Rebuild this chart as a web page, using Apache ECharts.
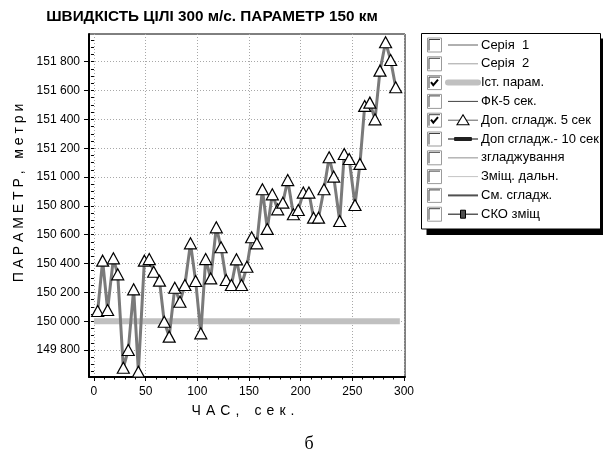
<!DOCTYPE html>
<html><head><meta charset="utf-8">
<script src="https://cdn.jsdelivr.net/npm/echarts@6/dist/echarts.min.js"></script>
<style>html,body{margin:0;padding:0;background:#fff}#c{width:603px;height:454px}</style>
</head><body><div id="c"></div>
<script>
// ---- data ----
const timeSec = [3.6, 8.4, 13.2, 18.8, 23, 28.4, 33.2, 38.4, 43, 48.8,
  53.5, 57.8, 63.4, 68, 72.8, 78.2, 83.2, 88, 93.4, 98.4,
  103.4, 108.1, 113, 118.4, 123, 128, 133, 137.9, 142.8, 148,
  152.6, 157.6, 163, 167.7, 172.6, 177.8, 182.8, 187.5, 193, 197.7,
  202.6, 208, 212.5, 217.3, 222.6, 227.6, 232, 237.8, 242.2, 247,
  252.6, 257.4, 262, 267, 272, 276.8, 282.2, 287.1, 292];
const dopSmooth5 = [150071, 150420, 150078, 150436, 150325, 149677, 149800, 150221, 149650, 150420,
  150431, 150343, 150281, 149996, 149893, 150232, 150135, 150251, 150540, 150279,
  149916, 150431, 150297, 150651, 150513, 150286, 150251, 150429, 150251, 150378,
  150582, 150540, 150915, 150640, 150880, 150776, 150822, 150979, 150742, 150771,
  150892, 150892, 150718, 150718, 150915, 151137, 151003, 150695, 151160, 151125,
  150806, 151091, 151493, 151516, 151400, 151738, 151935, 151812, 151623];
const istTime = [0, 296];
const istParam = [150000, 150000];
const xTickLabels = [0, 50, 100, 150, 200, 250, 300];
const xMinorTicks = [0,10,20,30,40,50,60,70,80,90,100,110,120,130,140,150,160,170,180,190,200,210,220,230,240,250,260,270,280,290,300];
const yTickLabels = [149800, 150000, 150200, 150400, 150600, 150800, 151000, 151200, 151400, 151600, 151800];
const legendNames = ['Серія  1', 'Серія  2', 'Іст. парам.', 'ФК-5 сек.', 'Доп. сгладж. 5 сек',
  'Доп сгладж.- 10 сек', 'згладжування', 'Зміщ. дальн.', 'См. сгладж.', 'СКО зміщ'];
const legendChecked = [false, false, true, false, true, false, false, false, false, false];
const titleText = 'ШВИДКІСТЬ ЦІЛІ 300 м/с. ПАРАМЕТР 150 км';
const xNameChars = ['Ч', 'А', 'С', ',', '', '', 'с', 'е', 'к', '.'];
const yName = 'П А Р А М Е Т Р ,   м е т р и';
const caption = 'б';

// ---- chart ----
const FF = '"Liberation Sans", Arial, sans-serif';
const X_MIN = -4.8, X_MAX = 301, Y_MIN = 149613, Y_MAX = 151992;
const yMinor = [];
for (let v = 149650; v <= 151950; v += 50) yMinor.push(v);
const xName = xNameChars.join(' \u200A');

const fmtY = v => { const s = String(Math.round(v)); return s.slice(0, s.length - 3) + ' ' + s.slice(-3); };

// legend graphics
const g = [];
const LX = 421.5, LY = 33.5, LW = 179, LH = 195.5;
g.push({type:'rect', shape:{x:LX+5, y:LY+LH, width:LW-2, height:6}, style:{fill:'#000'}, z:100});
g.push({type:'rect', shape:{x:LX+LW, y:LY+5, width:4, height:LH+1}, style:{fill:'#000'}, z:100});
g.push({type:'rect', shape:{x:LX, y:LY, width:LW, height:LH}, style:{fill:'#fff', stroke:'#000', lineWidth:1}, z:101});
const iconStyles = [
  {k:'line', c:'#606060', w:1},
  {k:'line', c:'#a0a0a0', w:1},
  {k:'line', c:'#c0c0c0', w:6},
  {k:'line', c:'#404040', w:1},
  {k:'tri'},
  {k:'bar'},
  {k:'line', c:'#b4b4b4', w:1.5},
  {k:'line', c:'#c4c4c4', w:1},
  {k:'line', c:'#505050', w:2},
  {k:'sq'}
];
legendNames.forEach((name, i) => {
  const cy = 45 + i * 18.8;
  const bx = 427.5, by = cy - 7, bs = 14;
  g.push({type:'rect', shape:{x:bx, y:by, width:bs, height:bs}, style:{fill:'#fff', stroke:'#9a9a9a', lineWidth:1}, z:102});
  g.push({type:'polyline', shape:{points:[[bx+1.5, by+bs-1.5],[bx+1.5, by+1.5],[bx+bs-1.5, by+1.5]]}, style:{stroke:'#404040', lineWidth:1, fill:null}, z:103});
  if (legendChecked[i]) {
    g.push({type:'polyline', shape:{points:[[bx+3.5, by+6.5],[bx+5.8, by+9.5],[bx+10.5, by+4]]}, style:{stroke:'#000', lineWidth:2, fill:null}, z:104});
  }
  const st = iconStyles[i];
  const x1 = 448, x2 = 478;
  if (st.k === 'line') {
    g.push({type:'line', shape:{x1:x1, y1:cy, x2:x2, y2:cy}, style:{stroke:st.c, lineWidth:st.w, lineCap: st.w > 3 ? 'round' : 'butt'}, z:102});
  } else if (st.k === 'tri') {
    g.push({type:'line', shape:{x1:x1, y1:cy, x2:x2, y2:cy}, style:{stroke:'#606060', lineWidth:1}, z:102});
    g.push({type:'polygon', shape:{points:[[463, cy-5.5],[469, cy+4.5],[457, cy+4.5]]}, style:{fill:'#fff', stroke:'#000', lineWidth:1.1}, z:103});
  } else if (st.k === 'bar') {
    g.push({type:'line', shape:{x1:x1, y1:cy, x2:x2, y2:cy}, style:{stroke:'#303030', lineWidth:1.2}, z:102});
    g.push({type:'rect', shape:{x:454, y:cy-2, width:18, height:4, r:1}, style:{fill:'#202020'}, z:103});
  } else if (st.k === 'sq') {
    g.push({type:'line', shape:{x1:x1, y1:cy, x2:x2, y2:cy}, style:{stroke:'#303030', lineWidth:1.2}, z:102});
    g.push({type:'rect', shape:{x:460.5, y:cy-4, width:5, height:8}, style:{fill:'#505050', stroke:'#000', lineWidth:1}, z:103});
  }
  g.push({type:'text', x:481, y:cy, style:{text:name, font:'13px ' + FF, fill:'#000', textVerticalAlign:'middle'}, z:103});
});
g.push({type:'text', x:309, y:444, style:{text:caption, font:'18px "Liberation Serif", "Times New Roman", serif', fill:'#000', textAlign:'center', textVerticalAlign:'middle'}, z:10});

const chart = echarts.init(document.getElementById('c'), null, {renderer:'canvas'});
chart.setOption({
  animation: false,
  backgroundColor: '#fff',
  title: {text: titleText, left: 207, top: 4, textAlign: 'center',
    textStyle: {fontSize: 15.3, fontWeight: 'bold', fontFamily: FF, color: '#000'}},
  grid: {left: 89, right: 198, top: 34, bottom: 77, show: true, borderColor: '#000', borderWidth: 1, backgroundColor: '#fff', containLabel: false},
  xAxis: [{
    type: 'value', min: X_MIN, max: X_MAX, position: 'bottom',
    axisLine: {show: true, onZero: false, lineStyle: {color: '#000', width: 2}},
    axisTick: {show: true, length: 4, customValues: xTickLabels, lineStyle: {color: '#000'}},
    axisLabel: {customValues: xTickLabels, fontSize: 12, color: '#000', margin: 9, fontFamily: FF},
    splitLine: {show: true, lineStyle: {color: '#a8a8a8', type: [1, 2], width: 1}},
    name: xName, nameLocation: 'middle', nameGap: 27,
    nameTextStyle: {fontSize: 14, color: '#000', fontFamily: FF, padding: [0, 8, 0, 0]}
  }, {
    type: 'value', min: X_MIN, max: X_MAX, position: 'bottom', gridIndex: 0,
    axisLine: {show: false},
    axisTick: {show: true, length: 2.5, customValues: xMinorTicks, lineStyle: {color: '#000'}},
    axisLabel: {show: false}, splitLine: {show: false}
  }],
  yAxis: [{
    type: 'value', min: Y_MIN, max: Y_MAX, position: 'left',
    axisLine: {show: true, onZero: false, lineStyle: {color: '#000', width: 2}},
    axisTick: {show: true, length: 5, customValues: yTickLabels, lineStyle: {color: '#000'}},
    axisLabel: {customValues: yTickLabels, formatter: fmtY, fontSize: 12, color: '#000', margin: 9, fontFamily: FF},
    splitLine: {show: true, lineStyle: {color: '#a8a8a8', type: [1, 2], width: 1}},
    name: yName, nameLocation: 'middle', nameGap: 61,
    nameTextStyle: {fontSize: 14, color: '#000', fontFamily: FF, padding: [0, 0, 0, 25]}
  }, {
    type: 'value', min: Y_MIN, max: Y_MAX, position: 'left', gridIndex: 0,
    axisLine: {show: false},
    axisTick: {show: true, length: 3, customValues: yMinor, lineStyle: {color: '#000'}},
    axisLabel: {show: false}, splitLine: {show: false}
  }],
  series: [{
    type: 'line', name: 'Іст. парам.', xAxisIndex: 0, yAxisIndex: 0,
    data: istTime.map((t, i) => [t, istParam[i]]),
    symbol: 'none', lineStyle: {color: '#c0c0c0', width: 6}, z: 2, silent: true
  }, {
    type: 'line', name: 'Доп. сгладж. 5 сек', xAxisIndex: 0, yAxisIndex: 0,
    data: timeSec.map((t, i) => [t, dopSmooth5[i]]),
    symbol: 'triangle', symbolSize: [12, 11], showAllSymbol: true,
    itemStyle: {color: '#fff', borderColor: '#000', borderWidth: 1.2},
    lineStyle: {color: '#7a7a7a', width: 3}, z: 3
  }],
  graphic: g
});
</script>
</body></html>
